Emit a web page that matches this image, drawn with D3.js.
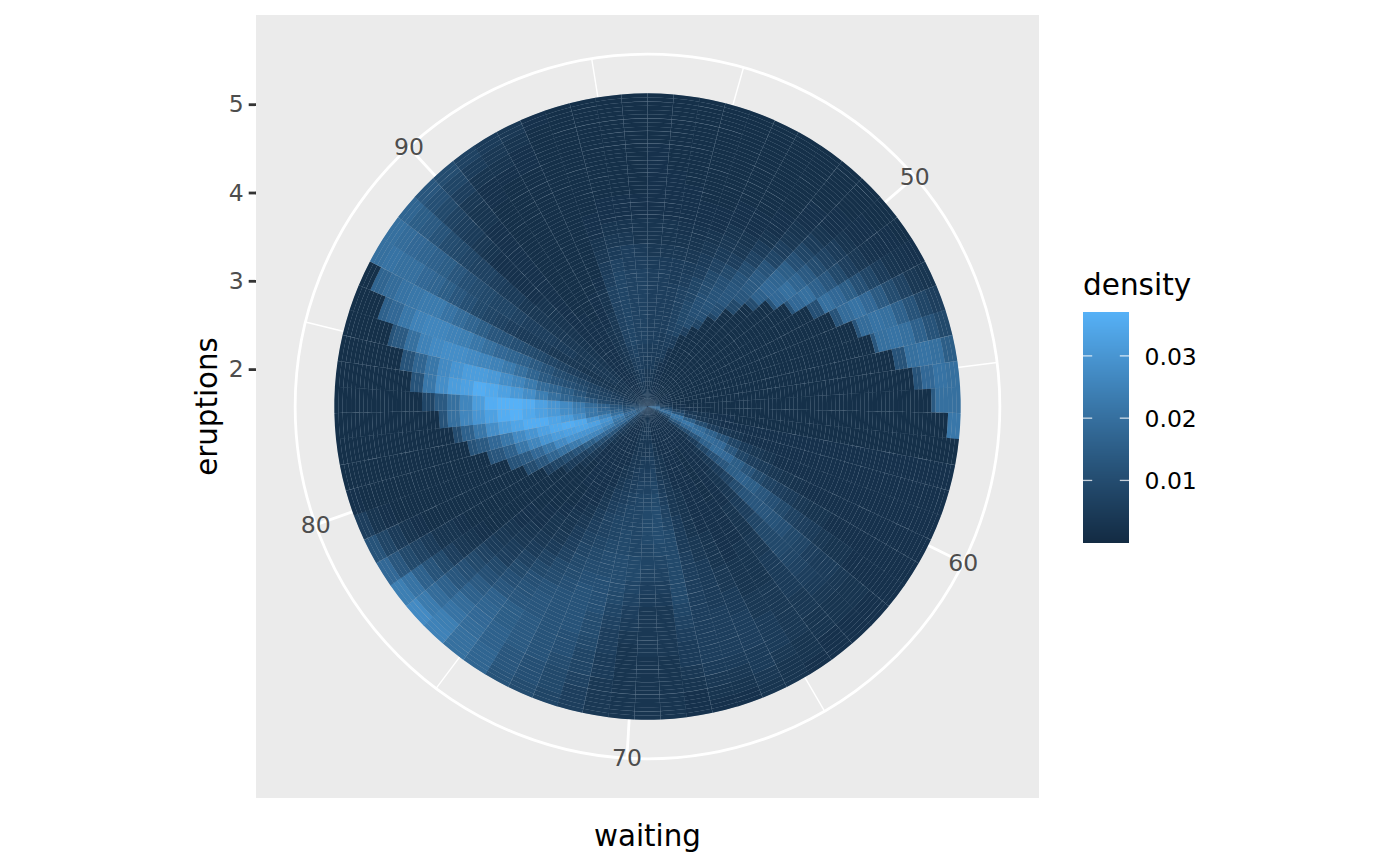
<!DOCTYPE html>
<html><head><meta charset="utf-8">
<script src="https://cdn.jsdelivr.net/npm/d3@7"></script>
<style>html,body{margin:0;padding:0;background:#fff}svg{display:block}text{font-family:"DejaVu Sans",sans-serif}</style>
</head><body><div id="chart"></div>
<script>
// waiting (one value per angular sector)
const waiting=[43.00,43.72,44.43,45.15,45.86,46.58,47.30,48.01,48.73,49.45,50.16,50.88,51.59,52.31,53.03,53.74,54.46,55.18,55.89,56.61,57.32,58.04,58.76,59.47,60.19,60.91,61.62,62.34,63.05,63.77,64.49,65.20,65.92,66.64,67.35,68.07,68.78,69.50,70.22,70.93,71.65,72.36,73.08,73.80,74.51,75.23,75.95,76.66,77.38,78.09,78.81,79.53,80.24,80.96,81.68,82.39,83.11,83.82,84.54,85.26,85.97,86.69,87.41,88.12,88.84,89.55,90.27,90.99,91.70,92.42,93.14,93.85,94.57,95.28,96.00];
// eruptions (one value per ring)
const eruptions=[1.600,1.647,1.695,1.742,1.789,1.836,1.884,1.931,1.978,2.026,2.073,2.120,2.168,2.215,2.262,2.309,2.357,2.404,2.451,2.499,2.546,2.593,2.641,2.688,2.735,2.782,2.830,2.877,2.924,2.972,3.019,3.066,3.114,3.161,3.208,3.255,3.303,3.350,3.397,3.445,3.492,3.539,3.586,3.634,3.681,3.728,3.776,3.823,3.870,3.918,3.965,4.012,4.059,4.107,4.154,4.201,4.249,4.296,4.343,4.391,4.438,4.485,4.532,4.580,4.627,4.674,4.722,4.769,4.816,4.864,4.911,4.958,5.005,5.053,5.100];
const waitingBreaks=[50,60,70,80,90];
const waitingMinor=[45,55,65,75,85,95];
const eruptionBreaks=[2,3,4,5];
const legendBreaks=[0.01,0.02,0.03];
// density x 1000: one row per waiting, one column per 3 rings of eruptions
const densityBands=[
[3,3,4,5,5,6,6,6,6,6,6,5,4,3,3,2,2,2,2,2,2,1.5,1.5,1.5,1.5],
[3,3,4,5,5,6,6,6,6,6,6,5,4,3,3,2,2,2,2,1.5,1.5,1.5,1.5,1.5,1.5],
[3,3,3,4,5,5,6,6,6,6,5,5,4,3,2.5,2,2,2,1.5,1.5,1.5,1.5,1.5,1.5,1.5],
[2,2,2,4,5,6,7,7,7,7,6,5,4,3,2.5,2,2,1.5,1.5,1.5,1.5,1.5,1.5,1.5,1.5],
[2,2,2,2,2,5,8,9,9,8,8,6,5,4,3,2,2,1.5,1.5,1.5,1.5,1.5,1.5,1.5,1.5],
[2,2,1.5,1.5,1.5,1.5,6,10,11,11,10,9,7,5,4,3,2,2,1.5,1.5,1.5,1.5,1.5,1.5,1.5],
[2,2,1.5,1.5,1.5,1.5,1.5,8,11,12,12,11,9,6,4,3,2,2,1.5,1.5,1.5,1.5,1.5,1.5,1.5],
[2,1.5,1.5,1.5,1.5,1.5,1.5,1.5,8,11,13,13,12,10,7,5,3,2,2,1.5,1.5,1.5,1.5,1.5,1.5],
[2,1.5,1.5,1.5,1.5,1.5,1.5,1.5,1.5,1.5,9,13,14,14,12,8,6,4,3,2,2,1.5,1.5,1.5,1.5],
[2,1.5,1.5,1.5,1.5,1.5,1.5,1.5,1.5,1.5,1.5,10,16,18,17,15,11,8,5,3,2,2,1.5,1.5,1.5],
[2,1.5,1.5,1.5,1.5,1.5,1.5,1.5,1.5,1.5,1.5,1.5,12,18,20,17,14,10,7,5,3,2,2,1.5,1.5],
[2,1.5,1.5,1.5,1.5,1.5,1.5,1.5,1.5,1.5,1.5,1.5,1.5,12,18,20,16,13,9,6,4,2.5,2,2,1.5],
[3,2,1.5,1.5,1.5,1.5,1.5,1.5,1.5,1.5,1.5,1.5,1.5,1.5,1.5,11,20,18,15,11,8,5,3,2.5,2],
[3,2,1.5,1.5,1.5,1.5,1.5,1.5,1.5,1.5,1.5,1.5,1.5,1.5,1.5,1.5,12,19,21,18,14,10,7,4,3],
[4,2,1.5,1.5,1.5,1.5,1.5,1.5,1.5,1.5,1.5,1.5,1.5,1.5,1.5,1.5,1.5,12,19,21,20,16,12,8,6],
[4,2,1.5,1.5,1.5,1.5,1.5,1.5,1.5,1.5,1.5,1.5,1.5,1.5,1.5,1.5,1.5,1.5,13,20,21,20,16,12,9],
[6,2,1.5,1.5,1.5,1.5,1.5,1.5,1.5,1.5,1.5,1.5,1.5,1.5,1.5,1.5,1.5,1.5,1.5,1.5,12,20,21,20,15],
[8,3,1.5,1.5,1.5,1.5,1.5,1.5,1.5,1.5,1.5,1.5,1.5,1.5,1.5,1.5,1.5,1.5,1.5,1.5,1.5,12,18,21,20],
[14,4,2,1.5,1.5,1.5,1.5,1.5,1.5,1.5,1.5,1.5,1.5,1.5,1.5,1.5,1.5,1.5,1.5,1.5,1.5,1.5,14,20,20],
[20,8,3,2,1.5,1.5,1.5,1.5,1.5,1.5,1.5,1.5,1.5,1.5,1.5,1.5,1.5,1.5,1.5,1.5,1.5,1.5,1.5,1.5,22],
[20,12,7,4,3,2,2,1.5,1.5,1.5,1.5,1.5,1.5,1.5,1.5,1.5,1.5,1.5,1.5,1.5,1.5,1.5,1.5,1.5,1.5],
[18,18,12,6,4,3,2,2,2,2,2,2,2,2,2,2,2,2,2,2,2,2,2,2,2],
[14,20,22,15,10,6,4,3,2,2,2,2,2,2,2,2,2,2,2,2,2,2,2,2,2],
[8,12,20,22,19,16,12,8,5,4,3,2,2,2,2,2,2,2,2,2,2,2,2,2,2],
[6,8,14,18,20,19,18,13,8,6,5,4,3,2.5,2,2,2,2,2,2,2,2,2,2,2],
[3,4,8,10,12,16,19,18,15,12,9,7,6,5,4,3,3,2,2,2,2,2,2,2,2],
[2,2,3,3,5,8,11,13,15,16,15,13,11,9,7,6,5,4,3,3,2,2,2,2,2],
[2,2,2,2,2,3,4,5,7,10,12,13,13,12,11,9,8,6,5,5,4,3,3,2,2],
[2,2,2,2,2,2,2,3,3,4,5,6,8,9,9,9,8,7,6,5,4,3,3,2,2],
[2,2,2,2,2,2,2,2,2,2,3,3,3,4,4,5,5,5,5,4,4,3,3,2,2],
[2,2,2,2,1.5,1.5,1.5,1.5,1.5,2,2,2,2,3,3,3,3,4,4,4,4,4,3,3,2],
[2,2,2,2,2,2,2,2,2,2,2,2,2,2,3,3,3,4,4,5,5,5,4,3,3],
[2,2,2,2,2,2,2,2,2,2,2,3,3,3,4,4,5,5,6,6,6,5,5,4,3],
[2,2,2,2,2,2,2,3,3,3,3,4,4,5,5,5,5,6,6,6,6,5,4,3,2],
[2,2,2,2,3,3,4,4,4,5,5,5,6,6,6,6,6,6,6,6,6,5,4,3,2],
[2,2,2,3,4,4,5,6,7,8,9,9,9,9,9,9,8,7,6,5,5,4,3,2,2],
[3,4,4,5,6,7,8,9,10,10,10,9,8,7,6,5,4,4,4,4,3,3,3,3,3],
[3,4,4,4,5,6,7,8,9,9,9,8,8,7,6,5,4,4,4,4,3,3,3,3,3],
[3,3,4,4,5,6,7,8,8,8,8,8,9,9,8,7,6,5,4,3,3,3,3,3,3],
[3,3,4,4,4,5,6,7,8,8,9,9,10,10,10,9,8,7,6,6,5,5,4,4,4],
[3,3,3,3,4,4,5,6,7,8,8,9,10,10,11,11,11,10,10,9,8,8,7,6,6],
[2,2,2,2,2,3,4,5,6,7,7,8,9,10,11,12,12,12,12,11,11,10,9,9,8],
[2,2,2,2,2,2,2,3,4,5,6,7,8,9,10,11,12,12,12,12,12,12,11,11,10],
[2,2,2,2,2,2,2,2,2,3,4,5,6,7,9,10,12,13,13,14,14,14,13,13,12],
[5,3,2,2,2,2,2,2,2,2,3,3,4,5,7,9,11,12,13,15,15,16,16,17,17],
[5,4,3,2,2,2,2,2,1.5,1.5,2,3,3,4,5,7,9,11,13,16,17,18,19,20,20],
[6,5,4,3,2,2,1.5,1.5,1.5,1.5,1.5,2,2,3,4,5,6,9,11,14,16,19,21,24,25],
[7,6,6,6,5,4,3,1.5,1.5,1.5,1.5,1.5,2,2,3,4,5,7,9,11,13,16,19,23,27],
[12,12,12,12,10,8,6,5,4,1.5,1.5,1.5,1.5,1.5,1.5,1.5,2,3,4,6,9,12,16,21,24],
[15,18,18,18,18,15,12,10,8,6,1.5,1.5,1.5,1.5,1.5,1.5,1.5,2,3,3,5,7,9,13,18],
[12,15,20,24,26,26,23,20,17,13,10,1.5,1.5,1.5,1.5,1.5,1.5,1.5,1.5,1.5,2,3,5,8,12],
[12,18,22,28,30,30,30,27,22,18,14,12,1.5,1.5,1.5,1.5,1.5,1.5,1.5,1.5,1.5,1.5,2,3,6],
[12,18,25,30,33,34,33,32,30,26,22,16,13,12,1.5,1.5,1.5,1.5,1.5,1.5,1.5,1.5,1.5,1.5,2],
[12,14,20,26,30,35,36,35,33,30,27,22,18,14,12,1.5,1.5,1.5,1.5,1.5,1.5,1.5,1.5,1.5,1.5],
[10,13,17,20,22,28,32,34,36,36,34,32,28,22,16,10,1.5,1.5,1.5,1.5,1.5,1.5,1.5,1.5,1.5],
[9,11,14,18,22,25,28,31,33,35,37,36,33,30,26,20,12,1.5,1.5,1.5,1.5,1.5,1.5,1.5,1.5],
[8,9,12,16,19,23,27,30,33,36,37,37,36,32,26,20,14,8,1.5,1.5,1.5,1.5,1.5,1.5,1.5],
[7,7,8,10,13,15,17,20,24,28,31,33,35,36,33,32,28,22,12,1.5,1.5,1.5,1.5,1.5,1.5],
[6,6,7,8,9,12,15,17,19,23,26,28,31,32,32,30,27,22,17,12,1.5,1.5,1.5,1.5,1.5],
[5,5,6,7,8,10,11,12,14,17,20,23,25,26,27,28,28,27,25,20,14,12,1.5,1.5,1.5],
[4,4,5,6,7,8,9,10,12,14,16,17,18,20,22,24,25,26,26,25,22,18,16,1.5,1.5],
[4,4,4,4,4,5,6,7,8,9,10,11,12,13,15,17,19,21,23,23,22,21,19,17,1.5],
[3,3,3,3,3,3,4,4,4,5,5,5,6,7,8,9,11,13,15,17,18,20,20,21,20],
[3,3,3,4,4,4,4,5,5,6,6,6,7,8,8,9,10,11,13,15,16,17,18,19,20],
[3,3,3,4,4,4,4,4,4,4,4,4,4,5,5,6,7,7,8,9,10,12,14,15,17],
[3,3,3,3,3,3,3,3,3,3,3,3,2,2,2,2,2,3,4,5,6,7,9,11,13],
[2,2,2,2,2,2,2,2,2,2,2,2,2,2,2,2,2,2,2,3,3,4,6,8,10],
[2,2,2,2,2,2,2,2,2,1.5,1.5,1.5,1.5,1.5,1.5,1.5,1.5,1.5,1.5,1.5,2,2,3,5,7],
[2,2,2,2,2,2,2,2,1.5,1.5,1.5,1.5,1.5,1.5,1.5,1.5,1.5,1.5,1.5,1.5,1.5,2,3,4,5],
[2,2,2,3,3,3,3,2,2,2,1.5,1.5,1.5,1.5,1.5,1.5,1.5,1.5,1.5,1.5,1.5,2,2,3,4],
[2,3,3,3,4,4,4,4,3,3,2,1.5,1.5,1.5,1.5,1.5,1.5,1.5,1.5,1.5,1.5,1.5,1.5,1.5,2],
[3,4,4,5,6,7,7,7,7,7,6,5,4,3,2,2,1.5,1.5,1.5,1.5,1.5,1.5,1.5,1.5,1.5],
[3,4,5,6,7,8,8,8,8,8,8,7,5,4,3,2,2,1.5,1.5,1.5,1.5,1.5,1.5,1.5,1.5],
[3,4,5,6,6,7,7,7,7,7,7,6,6,4,3,2,2,1.5,1.5,1.5,1.5,1.5,1.5,1.5,1.5],
[3,3,4,5,6,7,7,7,7,7,7,6,5,3,3,2,2,1.5,1.5,1.5,1.5,1.5,1.5,1.5,1.5]
];
// sharp steps: first bright ring of the sectors 3..19, and last bright ring of the sectors 47..61
const innerEdgeStart=3, innerEdgeRing=[11,15,19,22,26,30,34,38,41,45,49,53,56,60,64,68,72];
const outerEdgeStart=47, outerEdgeRing=[20,24,28,32,35,39,43,46,49,53,56,59,63,67,71];

const W=1400,H=866,panel={x:256,y:15,w:783,h:783};
const cx=panel.x+panel.w/2, cy=panel.y+panel.h/2;
const halfW=(waiting[1]-waiting[0])/2, halfE=(eruptions[1]-eruptions[0])/2;
const theta=d3.scaleLinear().domain([waiting[0]-halfW,waiting[74]+halfW]).range([0,2*Math.PI]);
const radius=d3.scaleLinear().domain([eruptions[0]-halfE,eruptions[74]+halfE]).range([0,0.4*panel.w]);
const Router=0.45*panel.w;
const color=d3.scaleLinear().domain([0,0.037]).range(["#132B43","#56B1F7"]).interpolate(d3.interpolateLab).clamp(true);

function cellValue(k,j){
  const row=densityBands[k], b=Math.floor(j/3);
  const ie=innerEdgeRing[k-innerEdgeStart], oe=outerEdgeRing[k-outerEdgeStart];
  if(ie!==undefined&&j<ie&&Math.floor(ie/3)===b) return row[Math.max(b-1,0)]/1000;
  if(oe!==undefined&&j>oe&&Math.floor(oe/3)===b) return row[Math.min(b+1,24)]/1000;
  return row[b]/1000;
}
const cells=[];
waiting.forEach((w,k)=>eruptions.forEach((e,j)=>cells.push({w,e,density:cellValue(k,j)})));

const svg=d3.select("#chart").append("svg").attr("width",W).attr("height",H);
svg.append("rect").attr("width",W).attr("height",H).attr("fill","#fff");
svg.append("rect").attr("x",panel.x).attr("y",panel.y).attr("width",panel.w).attr("height",panel.h).attr("fill","#EBEBEB");
const g=svg.append("g").attr("transform",`translate(${cx},${cy})`);
const spoke=d=>{const a=theta(d);return [Math.sin(a)*Router,-Math.cos(a)*Router];};
g.selectAll("line.minor").data(waitingMinor).join("line").attr("class","minor")
  .attr("x2",d=>spoke(d)[0]).attr("y2",d=>spoke(d)[1]).attr("stroke","#fff").attr("stroke-width",1.4);
g.selectAll("line.major").data(waitingBreaks).join("line").attr("class","major")
  .attr("x2",d=>spoke(d)[0]).attr("y2",d=>spoke(d)[1]).attr("stroke","#fff").attr("stroke-width",2.8);
g.append("circle").attr("r",Router).attr("fill","none").attr("stroke","#fff").attr("stroke-width",2.8);
// seam tone seen through the tile joins
g.append("circle").attr("r",0.4*panel.w-0.3).attr("fill","#9AACBD");

const arc=d3.arc();
g.append("g").selectAll("path").data(cells).join("path")
  .attr("d",d=>arc({innerRadius:radius(d.e-halfE),outerRadius:radius(d.e+halfE),startAngle:theta(d.w-halfW)+0.0002,endAngle:theta(d.w+halfW)-0.0002}))
  .attr("fill",d=>color(d.density));

g.selectAll("text.theta").data(waitingBreaks).join("text").attr("class","theta")
  .attr("x",d=>spoke(d)[0]).attr("y",d=>spoke(d)[1]).attr("text-anchor","middle").attr("dominant-baseline","central")
  .attr("font-size",23.5).attr("fill","#4D4D4D").text(d=>d);

// eruptions axis
const yAxisScale=d3.scaleLinear().domain(radius.domain()).range([cy,cy-0.4*panel.w]);
const yAxis=svg.append("g").attr("transform",`translate(${panel.x},0)`)
  .call(d3.axisLeft(yAxisScale).tickValues(eruptionBreaks).tickFormat(d3.format("d")).tickSize(7.3).tickPadding(5));
yAxis.select(".domain").remove();
yAxis.selectAll("line").attr("stroke","#333333").attr("stroke-width",2.8);
yAxis.selectAll("text").attr("font-size",23.5).attr("fill","#4D4D4D").attr("font-family",'"DejaVu Sans"');

svg.append("text").attr("x",cx).attr("y",836).attr("text-anchor","middle").attr("dominant-baseline","central").attr("font-size",29.3).attr("fill","#000").text("waiting");
svg.append("text").attr("transform",`translate(207,${cy}) rotate(-90)`).attr("text-anchor","middle").attr("dominant-baseline","central").attr("font-size",29.3).attr("fill","#000").text("eruptions");

// legend
const leg={x:1083,y:312,w:46,h:231};
const legY=d3.scaleLinear().domain([0,0.037]).range([542.7,312.3]);
svg.append("text").attr("x",1083).attr("y",295).attr("font-size",29.5).attr("fill","#000").text("density");
const bar=svg.append("g").attr("shape-rendering","crispEdges");
bar.selectAll("rect").data(d3.range(0,leg.h)).join("rect")
  .attr("x",leg.x).attr("width",leg.w).attr("y",d=>leg.y+d).attr("height",1)
  .attr("fill",d=>color(legY.invert(leg.y+d+0.5)));
const ticks=svg.append("g");
const tw=leg.w/5;
legendBreaks.forEach(v=>{
  const y=legY(v);
  ticks.append("line").attr("x1",leg.x).attr("x2",leg.x+tw).attr("y1",y).attr("y2",y).attr("stroke","#fff").attr("stroke-opacity",.75).attr("stroke-width",1.3);
  ticks.append("line").attr("x1",leg.x+leg.w-tw).attr("x2",leg.x+leg.w).attr("y1",y).attr("y2",y).attr("stroke","#fff").attr("stroke-opacity",.75).attr("stroke-width",1.3);
  svg.append("text").attr("x",1144.5).attr("y",y+1).attr("dominant-baseline","central").attr("font-size",23.5).attr("fill","#000").text(d3.format(".2f")(v));
});
</script></body></html>
